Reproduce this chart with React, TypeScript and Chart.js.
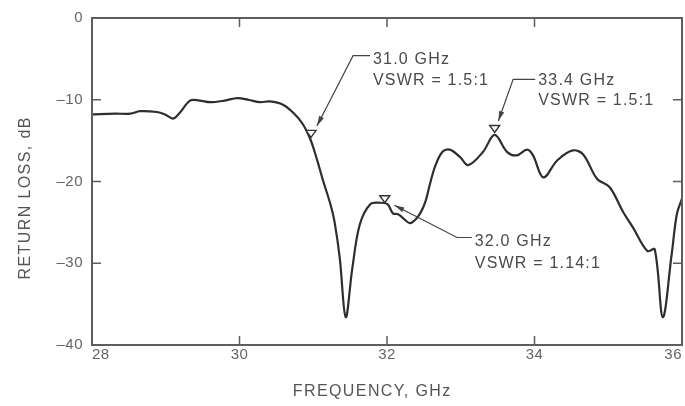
import React, { useEffect, useRef } from "react";
import { Chart, registerables } from "chart.js";

Chart.register(...registerables);

// Measured return-loss curve (frequency in GHz, return loss in dB)
const frequencyGHz = [
  28.0, 28.31, 28.52, 28.65, 28.88, 28.99, 29.1, 29.19, 29.33, 29.46, 29.6, 29.8, 29.97,
  30.12, 30.28, 30.41, 30.59, 30.73, 30.86, 30.96, 31.05, 31.13, 31.23, 31.29, 31.36,
  31.44, 31.53, 31.63, 31.77, 31.91, 32.01, 32.08, 32.15, 32.22, 32.31, 32.38, 32.45,
  32.52, 32.58, 32.65, 32.75, 32.85, 32.99, 33.1, 33.3, 33.46, 33.63, 33.76, 33.9,
  33.98, 34.12, 34.31, 34.52, 34.66, 34.85, 35.02, 35.2, 35.34, 35.53, 35.63, 35.74,
  35.86, 35.93, 36.0,
];
const returnLossDb = [
  -11.8, -11.7, -11.7, -11.4, -11.5, -11.8, -12.3, -11.6, -10.1, -10.1, -10.3, -10.1, -9.8,
  -10.0, -10.3, -10.2, -10.6, -11.6, -13.0, -14.8, -17.3, -19.8, -22.7, -25.0, -29.4,
  -36.6, -30.6, -25.3, -22.8, -22.6, -22.8, -23.9, -24.0, -24.5, -25.1, -24.7, -23.9,
  -22.5, -20.4, -18.2, -16.4, -16.1, -17.0, -18.0, -16.4, -14.3, -16.4, -16.8, -16.1,
  -16.8, -19.5, -17.4, -16.2, -16.7, -19.7, -20.7, -23.7, -25.7, -28.5, -28.3, -36.6,
  -28.9, -24.0, -22.1,
];

// Marked points
const markerFreqs = [30.97, 31.97, 33.46];
const markerLoss = [-14.6, -22.6, -14.0];
const markerLine1 = ["31.0 GHz", "32.0 GHz", "33.4 GHz"];
const markerLine2 = ["VSWR = 1.5:1", "VSWR = 1.14:1", "VSWR = 1.5:1"];

// Axis ticks
const xTicks = [28, 30, 32, 34, 36];
const yTicks = [0, -10, -20, -30, -40];
const xTitle = "FREQUENCY, GHz";
const yTitle = "RETURN LOSS, dB";

// Annotation placement, in data units (freq, dB)
const labelAnchors = [
  { tx: 31.81, ty1: -5.1, ty2: -7.6, path: [[31.77, -4.6], [31.54, -4.6], [31.05, -13.2]] },
  { tx: 33.19, ty1: -27.3, ty2: -30.1, path: [[33.15, -26.85], [32.95, -26.85], [32.1, -22.9]] },
  { tx: 34.05, ty1: -7.7, ty2: -10.1, path: [[34.01, -7.5], [33.71, -7.5], [33.51, -12.6]] },
];

const FONT = "'Liberation Sans', Arial, Helvetica, sans-serif";

const decorPlugin = {
  id: "decor",
  beforeDraw(chart: any) {
    chart.ctx.letterSpacing = "0.5px";
  },
  afterDraw(chart: any) {
    const { ctx, chartArea } = chart;
    const xs = chart.scales.x;
    const ys = chart.scales.y;
    const px = (v: number) => xs.getPixelForValue(v);
    const py = (v: number) => ys.getPixelForValue(v);
    const { left, right, top, bottom } = chartArea;
    ctx.save();
    // frame
    ctx.strokeStyle = "#5e5e5e";
    ctx.lineWidth = 2;
    ctx.strokeRect(left, top, right - left, bottom - top);
    // inward ticks
    const tl = 9;
    ctx.lineWidth = 1.5;
    ctx.beginPath();
    xTicks.slice(1, -1).forEach((t) => {
      const x = px(t);
      ctx.moveTo(x, bottom);
      ctx.lineTo(x, bottom - tl);
      ctx.moveTo(x, top);
      ctx.lineTo(x, top + tl);
    });
    yTicks.slice(1, -1).forEach((t) => {
      const y = py(t);
      ctx.moveTo(left, y);
      ctx.lineTo(left + tl, y);
      ctx.moveTo(right, y);
      ctx.lineTo(right - tl, y);
    });
    ctx.stroke();

    // markers (open triangles with tip on the curve)
    ctx.lineWidth = 1.4;
    ctx.strokeStyle = "#333";
    ctx.fillStyle = "#fff";
    markerFreqs.forEach((f, i) => {
      const x = px(f);
      const y = py(markerLoss[i]);
      ctx.beginPath();
      ctx.moveTo(x - 5, y - 7);
      ctx.lineTo(x + 5, y - 7);
      ctx.lineTo(x, y);
      ctx.closePath();
      ctx.fill();
      ctx.stroke();
    });

    // leaders with arrowheads
    ctx.strokeStyle = "#444";
    ctx.fillStyle = "#444";
    ctx.lineWidth = 1.2;
    labelAnchors.forEach((a) => {
      const pts = a.path.map(([f, d]) => [px(f), py(d)]);
      ctx.beginPath();
      ctx.moveTo(pts[0][0], pts[0][1]);
      for (let k = 1; k < pts.length; k++) ctx.lineTo(pts[k][0], pts[k][1]);
      ctx.stroke();
      const [x1, y1] = pts[pts.length - 2];
      const [x2, y2] = pts[pts.length - 1];
      const ang = Math.atan2(y2 - y1, x2 - x1);
      const L = 10;
      const W = 2.6;
      const bx = x2 - L * Math.cos(ang);
      const by = y2 - L * Math.sin(ang);
      ctx.beginPath();
      ctx.moveTo(x2, y2);
      ctx.lineTo(bx + W * Math.sin(ang), by - W * Math.cos(ang));
      ctx.lineTo(bx - W * Math.sin(ang), by + W * Math.cos(ang));
      ctx.closePath();
      ctx.fill();
    });

    // annotation text
    ctx.letterSpacing = "1.2px";
    ctx.fillStyle = "#4a4a4a";
    ctx.font = `16px ${FONT}`;
    ctx.textAlign = "left";
    ctx.textBaseline = "middle";
    labelAnchors.forEach((a, i) => {
      ctx.fillText(markerLine1[i], px(a.tx), py(a.ty1));
      ctx.fillText(markerLine2[i], px(a.tx), py(a.ty2));
    });

    // axis titles
    ctx.letterSpacing = "1.4px";
    ctx.fillStyle = "#555";
    ctx.font = `16px ${FONT}`;
    ctx.textAlign = "center";
    ctx.fillText(xTitle, left + (right - left) * 0.475, bottom + 47);
    ctx.save();
    ctx.translate(26, top + (bottom - top) * 0.55);
    ctx.rotate(-Math.PI / 2);
    ctx.fillText(yTitle, 0, 0);
    ctx.restore();
    ctx.restore();
  },
};

export default function App() {
  const ref = useRef<HTMLCanvasElement | null>(null);
  useEffect(() => {
    if (!ref.current) return;
    const chart = new Chart(ref.current, {
      type: "line",
      data: {
        datasets: [
          {
            data: frequencyGHz.map((f, i) => ({ x: f, y: returnLossDb[i] })),
            borderColor: "#2e2e2e",
            borderWidth: 2.2,
            pointRadius: 0,
            fill: false,
            tension: 0.35,
            borderJoinStyle: "round",
          },
        ],
      },
      options: {
        animation: false,
        responsive: false,
        layout: { padding: { top: 14, right: 3, left: 0, bottom: 0 } },
        plugins: { legend: { display: false }, tooltip: { enabled: false } },
        scales: {
          x: {
            type: "linear",
            min: 28,
            max: 36,
            afterFit: (s: any) => {
              s.height = 61;
            },
            afterBuildTicks: (s: any) => {
              s.ticks = xTicks.map((v) => ({ value: v }));
            },
            ticks: {
              align: "inner",
              autoSkip: false,
              maxRotation: 0,
              padding: 1,
              color: "#666",
              font: { size: 15, family: FONT },
            },
            grid: { display: false, drawTicks: false },
            border: { display: false },
          },
          y: {
            type: "linear",
            min: -40,
            max: 0,
            afterFit: (s: any) => {
              s.width = 92;
            },
            afterBuildTicks: (s: any) => {
              s.ticks = yTicks.map((v) => ({ value: v }));
            },
            ticks: {
              padding: 9,
              color: "#666",
              font: { size: 15, family: FONT },
              callback: (v: any) => (Number(v) < 0 ? "\u2013" + Math.abs(Number(v)) : String(v)),
            },
            grid: { display: false, drawTicks: false },
            border: { display: false },
          },
        },
      },
      plugins: [decorPlugin],
    } as any);
    return () => chart.destroy();
  }, []);
  return (
    <div style={{ position: "fixed", left: 0, top: 0, width: 685, height: 406, background: "#fff" }}>
      <canvas ref={ref} width={685} height={406} style={{ display: "block" }} />
    </div>
  );
}
